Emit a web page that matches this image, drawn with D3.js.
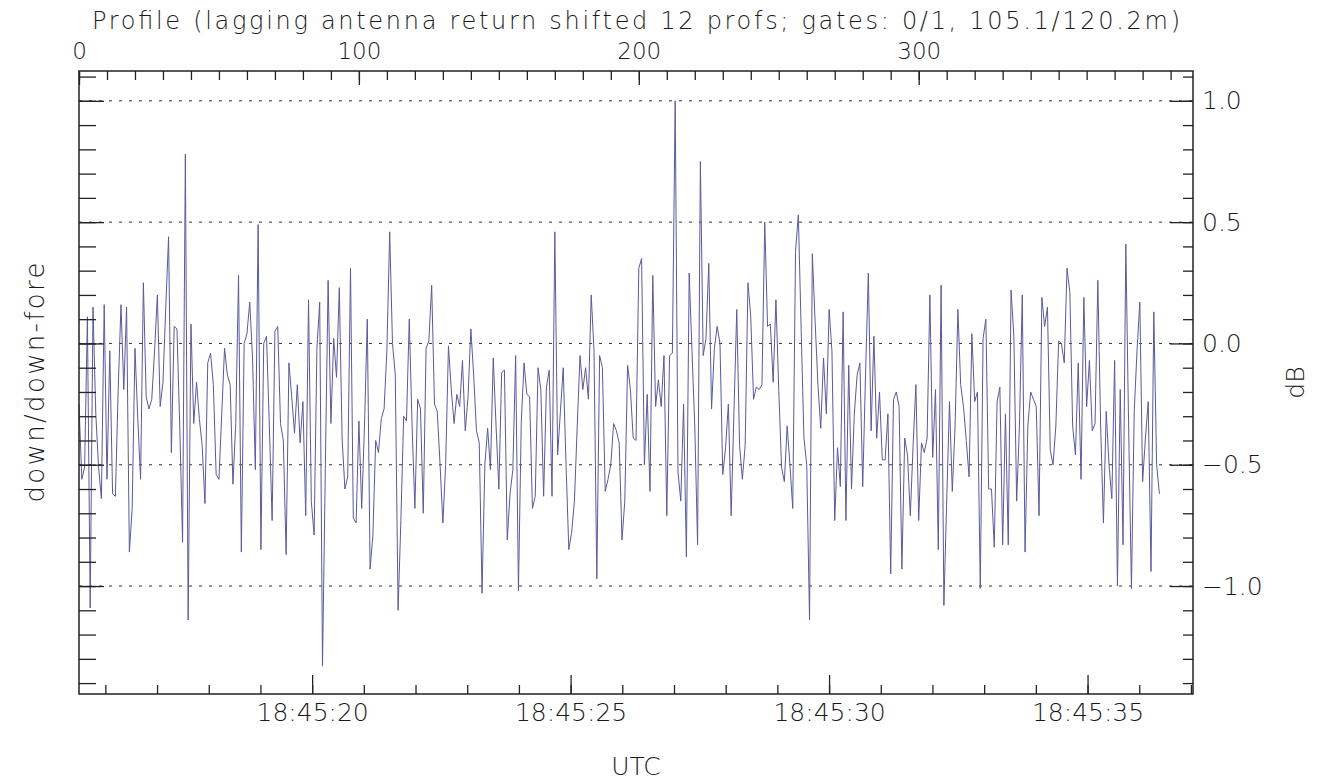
<!DOCTYPE html>
<html>
<head>
    <meta charset="utf-8">
    <title>down/down-fore profile</title>
    <script src="https://d3js.org/d3.v7.min.js"></script>
    <style>
        body { margin: 0; background: #fff; }
        text { font-family: "DejaVu Sans", sans-serif; font-weight: 200; fill: #1a1a1a; }
    </style>
</head>
<body>
    <div id="chart"></div>
    <script>
// down/down-fore ratio in dB, one value per profile (0..386)
const ratioDb = [
    -0.25, -0.56, -0.51, 0.11, -1.09, 0.15, -0.29, -0.51, -0.64, 0.16,
    -0.56, -0.03, -0.62, -0.63, -0.19, 0.16, -0.19, 0.15, -0.86, -0.68,
    -0.02, -0.31, -0.56, 0.25, -0.22, -0.27, -0.23, -0.03, 0.20, -0.26,
    -0.16, 0.15, 0.44, -0.45, 0.07, 0.06, -0.34, -0.82, 0.78, -1.14,
    0.08, -0.33, -0.16,
    -0.31, -0.42, -0.66, -0.08, -0.04, -0.17, -0.54, -0.56, -0.29, -0.02,
    -0.13, -0.17, -0.58, -0.33, 0.28, -0.86, 0.00, 0.04, 0.17, -0.06,
    -0.52, 0.49, -0.85, 0.00, 0.03, -0.34, -0.73, 0.05, 0.07, -0.33,
    -0.40, -0.87, -0.08, -0.22, -0.37, -0.17, -0.41, -0.24, -0.71, 0.18,
    -0.65, -0.79, -0.02,
    0.17, -1.33, -0.52, 0.26, -0.33, 0.02, -0.14, 0.23, -0.39, -0.60,
    -0.55, 0.31, -0.72, -0.74, -0.32, -0.68, -0.34, 0.10, -0.93, -0.79,
    -0.40, -0.45, -0.31, -0.27, -0.03, 0.46, 0.00, -0.13, -1.10, -0.73,
    -0.30, -0.32, 0.10, -0.34, -0.68, -0.23, -0.27, -0.70, -0.02, 0.01,
    0.24, -0.25, -0.28,
    -0.50, -0.74, -0.50, -0.01, -0.19, -0.33, -0.21, -0.26, -0.07, -0.36,
    -0.22, 0.06, -0.13, -0.36, -0.41, -1.03, -0.50, -0.35, -0.52, -0.06,
    -0.34, -0.60, -0.12, -0.11, -0.81, -0.62, -0.52, -0.05, -1.02, -0.33,
    -0.08, -0.21, -0.22, -0.68, -0.63, -0.10, -0.19, -0.63, -0.18, -0.11,
    -0.63, 0.46,
    -0.46, -0.28, -0.10, -0.50, -0.85, -0.78, -0.65, -0.34, -0.05, -0.19,
    -0.10, -0.23, 0.20, -0.03, -0.97, -0.05, -0.10, -0.61, -0.56, -0.50,
    -0.33, -0.36, -0.41, -0.81, -0.65, -0.09, -0.19, -0.39, -0.40, 0.31,
    0.35, -0.50, -0.21, -0.61, 0.28, -0.26, -0.15, -0.26, -0.05, -0.71,
    -0.05, -0.04, 1.00,
    -0.53, -0.65, -0.25, -0.88, 0.29, -0.03, -0.34, -0.83, 0.75, -0.05,
    0.02, 0.33, -0.27, -0.02, 0.07, 0.00, -0.54, -0.43, -0.25, -0.71,
    -0.28, 0.14, -0.42, -0.56, -0.42, 0.25, 0.11, -0.23, -0.18, -0.19,
    -0.17, 0.50, 0.07, 0.08, -0.16, 0.18, -0.19, -0.51, -0.57, -0.34,
    -0.50, -0.68, 0.38,
    0.53, 0.06, -0.39, -0.50, -1.14, 0.37, 0.09, -0.17, -0.35, -0.06,
    -0.29, 0.14, -0.03, -0.73, -0.43, -0.59, 0.13, -0.73, -0.09, -0.60,
    -0.29, -0.13, -0.08, -0.59, -0.13, 0.29, -0.36, 0.03, -0.39, -0.20,
    -0.48, -0.48, -0.29, -0.95, -0.23, -0.20, -0.26, -0.93, -0.39, -0.46,
    -0.71, -0.42, -0.17,
    -0.73, -0.41, -0.45, -0.39, 0.20, -0.47, -0.19, -0.85, 0.24, -1.08,
    -0.65, -0.24, -0.61, -0.34, 0.14, -0.17, -0.26, -0.40, -0.55, 0.04,
    -0.24, -0.20, -1.01, 0.02, 0.10, -0.60, -0.60, -0.84, -0.24, -0.18,
    -0.83, -0.29, -0.83, 0.22, 0.03, -0.65, -0.34, 0.20, -0.86, -0.34,
    -0.20, -0.23, -0.26,
    -0.71, 0.19, 0.07, 0.15, -0.44, -0.50, -0.34, 0.01, 0.00, -0.08,
    0.31, 0.21, -0.34, -0.46, -0.08, -0.56, 0.19, -0.26, -0.07, -0.36,
    -0.33, 0.26, -0.34, -0.74, -0.28, -0.50, -0.64, -0.07, -1.00, -0.19,
    -0.83, 0.41, -0.34, -1.01, -0.28, -0.03, 0.17, -0.57, -0.39, -0.24,
    -0.94, 0.13, -0.50, -0.62
];

const profileTicks = [0, 100, 200, 300];
const dbTicks = [1.0, 0.5, 0.0, -0.5, -1.0];
const timeLabels = ['18:45:20', '18:45:25', '18:45:30', '18:45:35'];

const width = 1319;
const height = 783;
const plotL = 79, plotR = 1193, plotT = 71, plotB = 694;

const svg = d3.select('#chart')
    .append('svg')
    .attr('width', width)
    .attr('height', height);

// profile scale on top, UTC on bottom
const x = d3.scaleLinear().domain([0, 398]).range([plotL, plotR]);
const t0 = new Date(Date.UTC(2000, 0, 1, 18, 45, 15, 490));
const t1 = new Date(Date.UTC(2000, 0, 1, 18, 45, 37, 40));
const t = d3.scaleUtc().domain([t0, t1]).range([plotL, plotR]);
const y = d3.scaleLinear().domain([-1.445, 1.123]).range([plotB, plotT]);

const fmtTime = d3.utcFormat('%H:%M:%S');
const stripDomain = g => g.select('.domain').remove();

// dotted grid
svg.append('g')
    .selectAll('line')
    .data(dbTicks)
    .enter()
    .append('line')
    .attr('x1', plotL)
    .attr('x2', plotR)
    .attr('y1', d => y(d))
    .attr('y2', d => y(d))
    .attr('stroke', '#333')
    .attr('stroke-width', 1)
    .attr('stroke-dasharray', '3,7');

// data
const line = d3.line()
    .x((d, i) => x(i))
    .y(d => y(d));

svg.append('path')
    .datum(ratioDb)
    .attr('d', line)
    .attr('fill', 'none')
    .attr('stroke', '#5a5a9c')
    .attr('stroke-width', 1);

// top axis
svg.append('g')
    .attr('transform', `translate(0,${plotT})`)
    .call(d3.axisTop(x).tickValues(d3.range(0, 399, 10)).tickSize(-9).tickFormat(''))
    .call(stripDomain);
svg.append('g')
    .attr('class', 'lab top-lab')
    .attr('transform', `translate(0,${plotT})`)
    .call(d3.axisTop(x).tickValues(profileTicks).tickSize(-14).tickPadding(12))
    .call(stripDomain);

// bottom axis
const seconds = d3.utcSecond.range(d3.utcSecond.ceil(t0), t1);
const majorSec = seconds.filter(d => timeLabels.includes(fmtTime(d)));
svg.append('g')
    .attr('transform', `translate(0,${plotB})`)
    .call(d3.axisBottom(t).tickValues(seconds).tickSize(-9).tickFormat(''))
    .call(stripDomain);
svg.append('g')
    .attr('class', 'lab')
    .attr('transform', `translate(0,${plotB})`)
    .call(d3.axisBottom(t).tickValues(majorSec).tickSize(-19).tickPadding(9).tickFormat(fmtTime))
    .call(stripDomain);

// left axis (no labels)
const minorDb = d3.range(-14, 12).map(d => d / 10);
svg.append('g')
    .attr('transform', `translate(${plotL},0)`)
    .call(d3.axisLeft(y).tickValues(minorDb).tickSize(-17).tickFormat(''))
    .call(stripDomain);
svg.append('g')
    .attr('transform', `translate(${plotL},0)`)
    .call(d3.axisLeft(y).tickValues(dbTicks).tickSize(-25).tickFormat(''))
    .call(stripDomain);

// right axis
svg.append('g')
    .attr('transform', `translate(${plotR},0)`)
    .call(d3.axisRight(y).tickValues(minorDb).tickSize(-10).tickFormat(''))
    .call(stripDomain);
svg.append('g')
    .attr('class', 'lab')
    .attr('transform', `translate(${plotR},0)`)
    .call(d3.axisRight(y).tickValues(dbTicks).tickSize(-23).tickPadding(9).tickFormat(d3.format('.1f')))
    .call(stripDomain);

svg.selectAll('.tick line').attr('stroke', '#222').attr('stroke-width', 1.3);
svg.selectAll('.lab .tick text')
    .attr('font-size', 25)
    .attr('font-family', null)
    .style('fill', '#1a1a1a');
svg.selectAll('.top-lab .tick text').attr('font-size', 23);

// frame
svg.append('rect')
    .attr('x', plotL)
    .attr('y', plotT)
    .attr('width', plotR - plotL)
    .attr('height', plotB - plotT)
    .attr('fill', 'none')
    .attr('stroke', '#222')
    .attr('stroke-width', 1.5);

// titles
svg.append('text')
    .attr('x', (plotL + plotR) / 2)
    .attr('y', 29)
    .attr('text-anchor', 'middle')
    .attr('font-size', 24)
    .attr('textLength', 1088)
    .text('Profile (lagging antenna return shifted 12 profs; gates: 0/1, 105.1/120.2m)');

svg.append('text')
    .attr('x', (plotL + plotR) / 2)
    .attr('y', 775)
    .attr('text-anchor', 'middle')
    .attr('font-size', 25)
    .text('UTC');

svg.append('text')
    .attr('transform', `translate(44,${(plotT + plotB) / 2}) rotate(-90)`)
    .attr('text-anchor', 'middle')
    .attr('font-size', 26)
    .attr('textLength', 240)
    .text('down/down-fore');

svg.append('text')
    .attr('transform', `translate(1304,${(plotT + plotB) / 2}) rotate(-90)`)
    .attr('text-anchor', 'middle')
    .attr('font-size', 25)
    .text('dB');
    </script>
</body>
</html>
